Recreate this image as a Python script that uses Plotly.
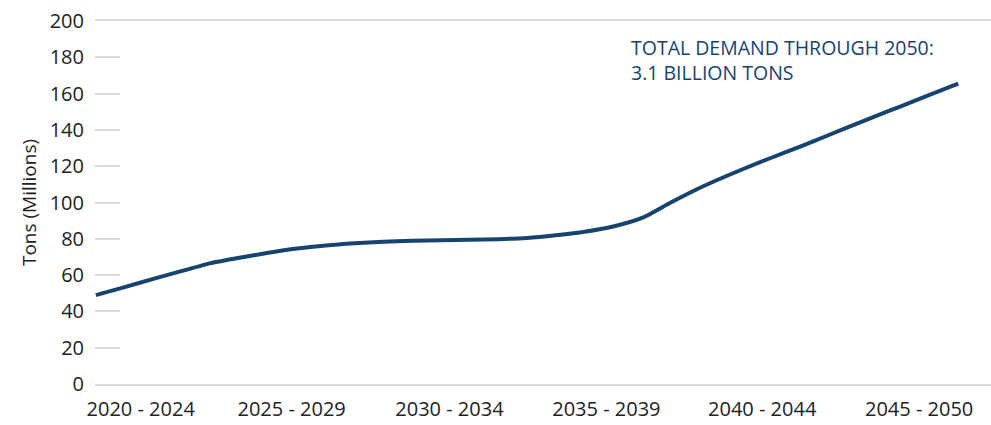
import plotly.graph_objects as go

years = list(range(2020, 2051))
demand = [49.0, 53.4, 57.9, 62.3, 66.6, 69.6, 72.3, 74.6, 76.3, 77.5,
          78.4, 78.9, 79.2, 79.5, 79.8, 80.5, 82.0, 83.9, 86.8, 91.5,
          100.0, 108.0, 115.0, 121.6, 127.7, 134.0, 140.4, 146.8, 153.0, 159.3, 165.5]

period_labels = ["2020 - 2024", "2025 - 2029", "2030 - 2034",
                 "2035 - 2039", "2040 - 2044", "2045 - 2050"]
period_label_pos = [2021.56, 2026.81, 2032.30, 2037.76, 2043.18, 2048.64]

y_ticks = list(range(0, 201, 20))

navy = "#17436f"
grid = "#d9d9d9"
font_family = "Open Sans"

fig = go.Figure()
fig.add_trace(go.Scatter(
    x=years, y=demand, mode="lines",
    line=dict(color=navy, width=4, shape="spline", smoothing=0.6),
    hoverinfo="skip", showlegend=False,
))

fig.add_annotation(
    xref="paper", yref="y", x=0.596, y=194,
    xanchor="left", yanchor="top", align="left",
    text="TOTAL DEMAND THROUGH 2050:<br>3.1 BILLION TONS",
    showarrow=False,
    font=dict(family=font_family, size=19.5, color=navy),
)

fig.update_layout(
    width=991, height=425,
    margin=dict(l=95, r=0, t=21, b=41),
    paper_bgcolor="white", plot_bgcolor="white",
    font=dict(family=font_family, color="#222222"),
    xaxis=dict(
        range=[2019.97, 2051.14],
        tickmode="array", tickvals=period_label_pos, ticktext=period_labels,
        showgrid=False, zeroline=False,
        showline=True, mirror=True, linecolor=grid, linewidth=2,
        ticks="", tickfont=dict(size=20, color="#222222"),
        ticklabelstandoff=6,
    ),
    yaxis=dict(
        range=[0, 200],
        tickmode="array", tickvals=y_ticks,
        showgrid=False, zeroline=False, showline=False,
        ticks="inside", ticklen=25, tickcolor=grid, tickwidth=2,
        tickfont=dict(size=20, color="#222222"),
        ticklabelstandoff=10,
        title=dict(text="Tons (Millions)", font=dict(size=19, color="#222222"), standoff=8),
    ),
)

fig.write_html("out.html")
